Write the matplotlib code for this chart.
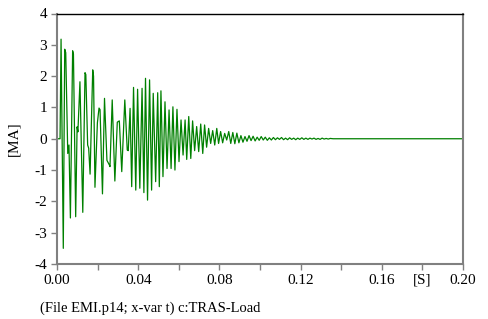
import matplotlib
matplotlib.use("Agg")
import matplotlib.pyplot as plt

# Time (s) and current (MA) at the turning points
t_pts = [0.0, 0.0015, 0.0020, 0.0031, 0.0038, 0.0043, 0.0053, 0.0059, 0.0066, 0.0077,
         0.0081, 0.0092, 0.0099, 0.0103, 0.0113, 0.0127, 0.0138, 0.0142, 0.0151, 0.0156,
         0.0163, 0.0176, 0.0180, 0.0187, 0.0199, 0.0207, 0.0212, 0.0224, 0.0234, 0.0246,
         0.0259, 0.0261, 0.0272, 0.0285, 0.0297, 0.0307, 0.0319, 0.0334, 0.0346, 0.0351,
         0.0360, 0.0368, 0.0377, 0.0388, 0.0397, 0.0408, 0.0419, 0.0428, 0.0436, 0.0446,
         0.0456, 0.0466, 0.0474, 0.0486, 0.0496, 0.0504, 0.0512, 0.0522, 0.0532, 0.0542,
         0.0552, 0.0562, 0.0571, 0.0581, 0.0591, 0.0601, 0.0611, 0.0621, 0.0631, 0.0639,
         0.0649, 0.0659, 0.0668, 0.0678, 0.0688, 0.0698, 0.0708, 0.0718, 0.0727, 0.0737,
         0.0747, 0.0757, 0.0767, 0.0777, 0.0787, 0.0796, 0.0806, 0.0816, 0.0826, 0.0836,
         0.0846, 0.0856, 0.0866, 0.0876, 0.0886, 0.0896, 0.0906, 0.0916, 0.0926, 0.0936,
         0.0946, 0.0956, 0.0966, 0.0976, 0.0986, 0.0996, 0.1006, 0.1016, 0.1026, 0.1036,
         0.1046, 0.1056, 0.1066, 0.1076, 0.1086, 0.1096, 0.1106, 0.1116, 0.1126, 0.1136,
         0.1146, 0.1156, 0.1166, 0.1176, 0.1186, 0.1196, 0.1206, 0.1216, 0.1226, 0.1236,
         0.1246, 0.1256, 0.1266, 0.1276, 0.1286, 0.1296, 0.1306, 0.1316, 0.1326, 0.1336,
         0.1346, 0.1360, 0.2000]
i_pts = [0.0, 0.0, 3.18, -3.50, 2.86, 2.75, -0.47, -0.20, -2.53, 2.81,
         2.70, -2.49, 0.38, 0.22, 1.82, -2.35, 2.11, 2.05, -0.20, -0.30,
         -1.13, 2.20, 2.00, -1.55, 0.51, 0.98, 0.93, -1.76, 1.29, -0.69,
         -0.85, -0.89, 1.24, -1.35, 0.53, 0.57, -1.05, 1.24, -0.36, -0.38,
         0.97, -1.53, 1.64, -1.64, 1.58, -1.58, 1.61, -1.72, 1.93, -1.96,
         1.88, -1.64, 1.45, -1.37, 1.47, -1.53, 1.53, -1.21, 1.18, -0.95,
         0.92, -0.95, 1.02, -1.00, 0.94, -0.73, 0.60, -0.52, 0.60, -0.66,
         0.71, -0.63, 0.57, -0.38, 0.39, -0.41, 0.47, -0.47, 0.44, -0.27,
         0.33, -0.15, 0.26, -0.20, 0.33, -0.15, 0.23, -0.13, 0.17, -0.04,
         0.23, -0.15, 0.20, -0.16, 0.18, -0.13, 0.10, -0.11, 0.07, -0.08,
         0.10, -0.06, 0.08, -0.07, 0.05, -0.05, 0.07, -0.04, 0.05, -0.05,
         0.03, -0.04, 0.04, -0.03, 0.03, -0.02, 0.04, -0.03, 0.02, -0.03,
         0.03, -0.02, 0.02, -0.03, 0.02, -0.02, 0.03, -0.02, 0.02, -0.02,
         0.02, -0.01, 0.02, -0.02, 0.01, -0.02, 0.02, -0.01, 0.01, -0.01,
         0.01, 0.0, 0.0]

x_ticks = [0.00, 0.02, 0.04, 0.06, 0.08, 0.10, 0.12, 0.14, 0.16, 0.18, 0.20]
x_labels = ["0.00", "", "0.04", "", "0.08", "", "0.12", "", "0.16", "[S]", "0.20"]
y_ticks = [-4, -3, -2, -1, 0, 1, 2, 3, 4]
y_labels = ["-4", "-3", "-2", "-1", "0", "1", "2", "3", "4"]

plt.rcParams['font.family'] = ['Liberation Serif', 'DejaVu Serif']

fig = plt.figure(figsize=(4.89, 3.19), dpi=100)
ax = fig.add_axes([57 / 489, 1 - 264 / 319, (463 - 57) / 489, (264 - 13.5) / 319])

ax.plot(t_pts, i_pts, color='#008000', lw=0.9)

ax.set_xlim(0, 0.2)
ax.set_ylim(-4, 4)
ax.set_xticks(x_ticks)
ax.set_xticklabels(x_labels)
ax.set_yticks(y_ticks)
ax.set_yticklabels(y_labels)
ax.tick_params(direction='out', length=4, width=1, color='#808080',
               labelsize=11)
ax.tick_params(axis='x', pad=3)
ax.tick_params(axis='y', pad=3)

for side in ['left', 'bottom', 'right']:
    ax.spines[side].set_color('#808080')
    ax.spines[side].set_linewidth(1.5)
ax.spines['top'].set_color('black')
ax.spines['top'].set_linewidth(1.0)

ax.set_ylabel('[MA]', fontsize=11, labelpad=10)

fig.text(40 / 489, 1 - 308 / 319, '(File EMI.p14; x-var t) c:TRAS-Load',
         fontsize=10.5, ha='left', va='center')

fig.savefig('out.png', dpi=100)
